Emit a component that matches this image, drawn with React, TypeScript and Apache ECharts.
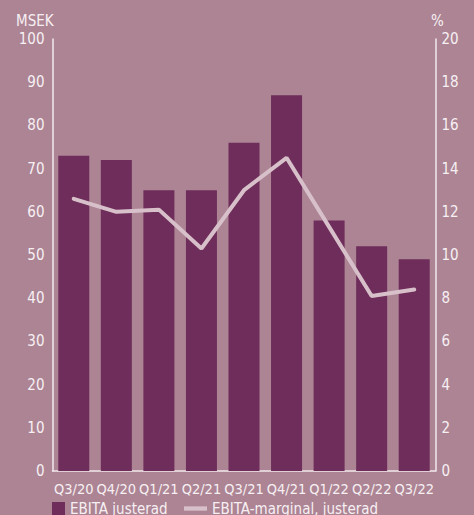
import React, { useEffect, useRef } from "react";
import * as echarts from "echarts";

const categories = ["Q3/20", "Q4/20", "Q1/21", "Q2/21", "Q3/21", "Q4/21", "Q1/22", "Q2/22", "Q3/22"];
const ebitaJusterad = [73, 72, 65, 65, 76, 87, 58, 52, 49];
const ebitaMarginal = [12.6, 12.0, 12.1, 10.3, 13.0, 14.5, 11.3, 8.1, 8.4];
const leftTicks = { min: 0, max: 100, interval: 10 };
const rightTicks = { min: 0, max: 20, interval: 2 };

const BG = "#AC8494";
const BAR = "#6E2D5A";
const LINE = "#D8C0CA";
const AXIS = "#F2E8EC";
const TEXT = "#F7F0F3";
const FONT = "'DejaVu Sans Condensed', 'DejaVu Sans', sans-serif";
const FS = 15;

export default function App() {
  const ref = useRef<HTMLDivElement>(null);
  useEffect(() => {
    if (!ref.current) return;
    const chart = echarts.init(ref.current, undefined, { renderer: "svg" });
    chart.setOption({
      animation: false,
      backgroundColor: BG,
      textStyle: { fontFamily: FONT },
      grid: { left: 52.5, right: 38.5, top: 39, bottom: 44, containLabel: false },
      graphic: [
        { type: "text", left: 16, top: 13, style: { text: "MSEK", fill: TEXT, font: `${FS}px ${FONT}` } },
        { type: "text", left: 431, top: 13, style: { text: "%", fill: TEXT, font: `${FS}px ${FONT}` } },
      ],
      legend: [
        {
          left: 52,
          top: 501,
          padding: 0,
          itemWidth: 13,
          itemHeight: 13,
          textStyle: { color: TEXT, fontSize: FS, fontFamily: FONT },
          data: [{ name: "EBITA justerad", icon: "rect", itemStyle: { color: BAR } }],
        },
        {
          left: 184,
          top: 501,
          padding: 0,
          itemWidth: 23,
          itemHeight: 13,
          textStyle: { color: TEXT, fontSize: FS, fontFamily: FONT },
          data: [
            { name: "EBITA-marginal, justerad", icon: "path://M0,0 L24,0 L24,4.5 L0,4.5 Z", itemStyle: { color: LINE } },
          ],
        },
      ],
      xAxis: {
        type: "category",
        data: categories,
        axisLine: { lineStyle: { color: AXIS, width: 1.5 } },
        axisTick: { show: false },
        axisLabel: { color: TEXT, fontSize: 14.5, fontFamily: FONT, margin: 10, interval: 0 },
      },
      yAxis: [
        {
          type: "value",
          ...leftTicks,
          axisLine: { show: true, lineStyle: { color: AXIS, width: 1.5 } },
          axisTick: { show: false },
          splitLine: { show: false },
          axisLabel: { color: TEXT, fontSize: FS, fontFamily: FONT, margin: 8 },
        },
        {
          type: "value",
          ...rightTicks,
          position: "right",
          axisLine: { show: true, lineStyle: { color: AXIS, width: 1.5 } },
          axisTick: { show: false },
          splitLine: { show: false },
          axisLabel: { color: TEXT, fontSize: FS, fontFamily: FONT, margin: 6 },
        },
      ],
      series: [
        {
          name: "EBITA justerad",
          type: "bar",
          data: ebitaJusterad,
          barWidth: 31,
          itemStyle: { color: BAR },
        },
        {
          name: "EBITA-marginal, justerad",
          type: "line",
          yAxisIndex: 1,
          data: ebitaMarginal,
          symbol: "none",
          lineStyle: { color: LINE, width: 4, cap: "round" },
          itemStyle: { color: LINE },
        },
      ],
    });
    return () => chart.dispose();
  }, []);
  return <div ref={ref} style={{ position: "fixed", left: 0, top: 0, width: 474, height: 515 }} />;
}
